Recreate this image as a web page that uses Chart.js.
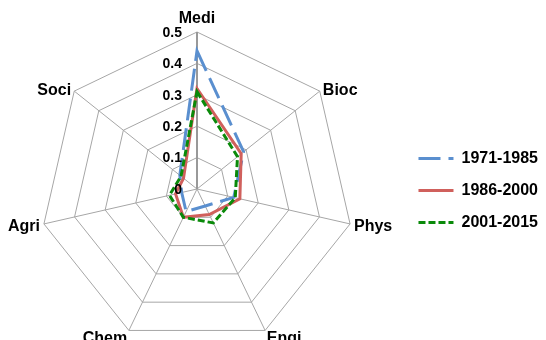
<!DOCTYPE html>
<html>
<head>
<meta charset="utf-8">
<script src="https://cdn.jsdelivr.net/npm/chart.js@4/dist/chart.umd.min.js"></script>
<style>
  html, body { margin: 0; padding: 0; background: #ffffff; }
  canvas { display: block; }
</style>
</head>
<body>
<canvas id="radar" width="546" height="340"></canvas>
<script>
// Subject areas around the radar
const categories = ['Medi', 'Bioc', 'Phys', 'Engi', 'Chem', 'Agri', 'Soci'];

// Share per subject area for each period
const period1971 = [0.44, 0.19, 0.12, 0.06, 0.08, 0.05, 0.07];
const period1986 = [0.32, 0.18, 0.14, 0.09, 0.10, 0.07, 0.055];
const period2001 = [0.31, 0.165, 0.125, 0.12, 0.10, 0.09, 0.065];

const seriesNames = ['1971-1985', '1986-2000', '2001-2015'];

// Radial axis range and tick step
const axisMin = 0;
const axisMax = 0.5;
const axisStep = 0.1;

const FONT = "'Liberation Sans', Arial, sans-serif";
const GRID = '#a6a6a6';

// Fixed geometry of the radar web
const WEB = { cx: 197, cy: 189, radius: 157 };

// Draws the value labels to the left of the first spoke
const tickLabelPlugin = {
  id: 'tickLabels',
  afterDatasetsDraw(chart) {
    const s = chart.scales.r;
    const ctx = chart.ctx;
    ctx.save();
    ctx.font = 'bold 14px ' + FONT;
    ctx.fillStyle = '#000';
    ctx.textAlign = 'right';
    ctx.textBaseline = 'middle';
    s.ticks.forEach(t => {
      const d = s.getDistanceFromCenterForValue(t.value);
      ctx.fillText(String(+t.value.toFixed(2)), s.xCenter - 15, s.yCenter - d + 1);
    });
    ctx.restore();
  }
};

// Draws the category names just outside the outer ring
const pointLabelPlugin = {
  id: 'spokeLabels',
  afterDraw(chart) {
    const s = chart.scales.r;
    const ctx = chart.ctx;
    ctx.save();
    ctx.font = 'bold 16px ' + FONT;
    ctx.fillStyle = '#000';
    ctx.textBaseline = 'alphabetic';
    chart.data.labels.forEach((label, i) => {
      const a = s.getIndexAngle(i);
      const sx = Math.sin(a), cy = -Math.cos(a);
      const p = s.getPointPosition(i, s.drawingArea + 4);
      let y;
      if (cy < -0.9) {          // top
        ctx.textAlign = 'center';
        y = p.y - 5;
      } else if (cy > 0.8) {    // bottom
        ctx.textAlign = sx > 0 ? 'left' : 'right';
        y = p.y + 9;
      } else {                  // sides
        ctx.textAlign = sx > 0 ? 'left' : 'right';
        y = p.y + 6;
      }
      ctx.fillText(label, p.x, y);
    });
    ctx.restore();
  }
};

new Chart(document.getElementById('radar'), {
  type: 'radar',
  data: {
    labels: categories,
    datasets: [
      {
        label: seriesNames[0],
        data: period1971,
        borderColor: '#5A8FCF',
        backgroundColor: 'rgba(0,0,0,0)',
        borderWidth: 3,
        borderDash: [22, 8],
        order: 2
      },
      {
        label: seriesNames[1],
        data: period1986,
        borderColor: '#D0605C',
        backgroundColor: 'rgba(0,0,0,0)',
        borderWidth: 3,
        order: 1
      },
      {
        label: seriesNames[2],
        data: period2001,
        borderColor: '#0A8A0A',
        backgroundColor: 'rgba(0,0,0,0)',
        borderWidth: 3,
        borderDash: [7, 3],
        order: 0
      }
    ]
  },
  options: {
    responsive: false,
    animation: false,
    devicePixelRatio: 1,
    layout: { padding: { top: 41, right: -2, bottom: 0, left: 0 } },
    elements: {
      line: { tension: 0, fill: false, borderJoinStyle: 'miter' },
      point: { radius: 0, hoverRadius: 0 }
    },
    scales: {
      r: {
        min: axisMin,
        max: axisMax,
        beginAtZero: true,
        ticks: { stepSize: axisStep, display: false },
        grid: { color: GRID, lineWidth: 1 },
        angleLines: {
          display: true,
          color: ctx => ctx.index === 0 ? '#999999' : GRID,
          lineWidth: ctx => ctx.index === 0 ? 2 : 1
        },
        pointLabels: { display: false },
        afterFit(scale) {
          scale.xCenter = WEB.cx;
          scale.yCenter = WEB.cy;
          scale.drawingArea = WEB.radius;
        }
      }
    },
    plugins: {
      legend: {
        position: 'right',
        labels: {
          usePointStyle: true,
          pointStyle: 'line',
          pointStyleWidth: 35,
          boxWidth: 35,
          boxHeight: 16,
          padding: 16,
          color: '#000',
          font: { family: FONT, size: 16, weight: 'bold' },
          sort: (a, b) => a.datasetIndex - b.datasetIndex,
          // legend samples carry each series' own line colour, width and dash
          generateLabels(chart) {
            const items = Chart.defaults.plugins.legend.labels.generateLabels(chart);
            return items.map(item => {
              const ds = chart.data.datasets[item.datasetIndex];
              item.strokeStyle = ds.borderColor;
              item.fillStyle = ds.borderColor;
              item.lineWidth = ds.borderWidth;
              item.lineDash = ds.borderDash || [];
              item.lineDashOffset = 0;
              item.lineCap = 'butt';
              return item;
            });
          }
        }
      },
      tooltip: { enabled: false }
    }
  },
  plugins: [tickLabelPlugin, pointLabelPlugin]
});
</script>
</body>
</html>
